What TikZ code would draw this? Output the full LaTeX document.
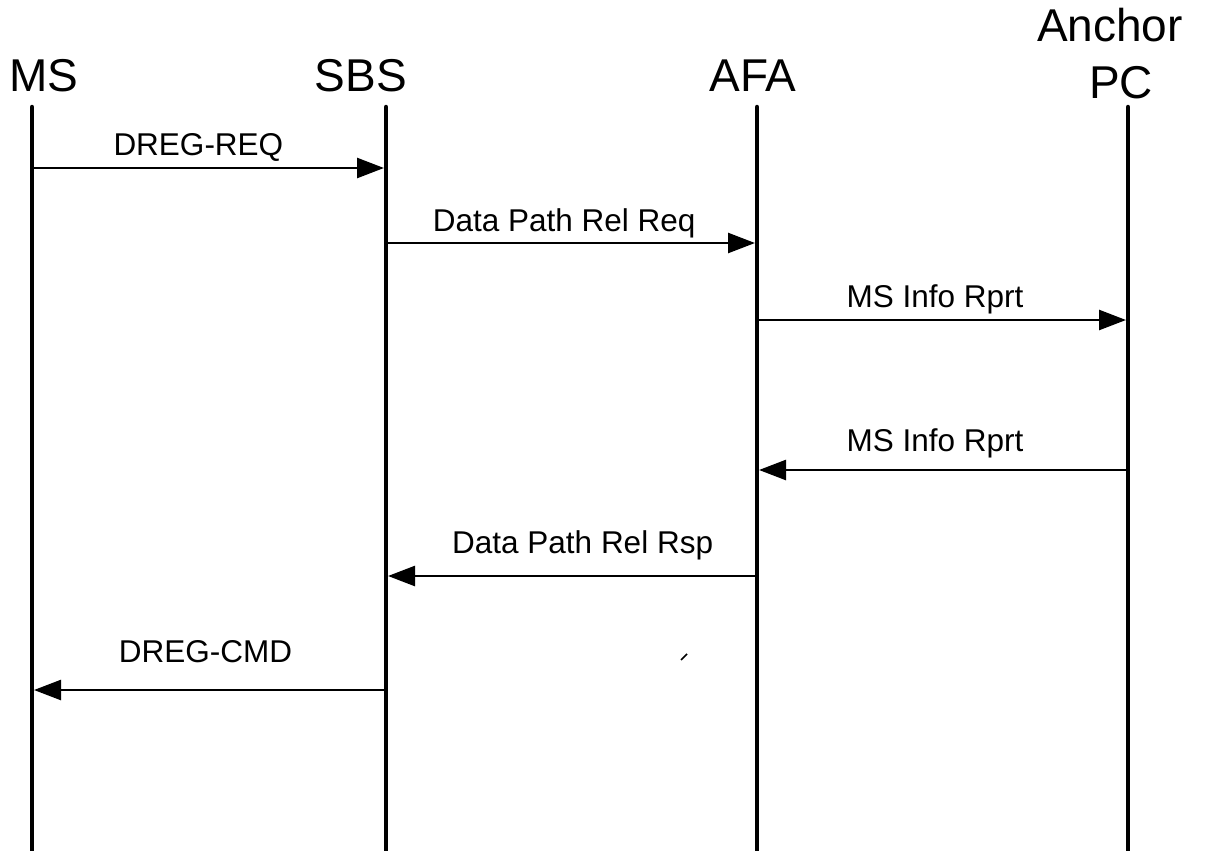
\documentclass[tikz,border=0pt]{standalone}
\usepackage{fontspec}
\setmainfont{Liberation Sans}
\usetikzlibrary{arrows.meta}

\begin{document}
\begin{tikzpicture}[x=1pt,y=-1pt,
    life/.style={line width=4.5pt,line cap=round},
    msg/.style={line width=2.5pt,-{Triangle[length=27pt,width=20pt]},shorten >=2pt},
    head/.style={font=\fontsize{46}{56}\selectfont,inner sep=0pt,anchor=base},
    lbl/.style={font=\fontsize{31.5}{36}\selectfont,inner sep=0pt,anchor=base}]
  \useasboundingbox (0,0) rectangle (1223,851);
  % entity headers
  \node[head] (h_ms)  at (44,92)    {MS};
  \node[head] (h_sbs) at (361,92)   {SBS};
  \node[head] (h_afa) at (753,92)   {AFA};
  \node[head] (h_anc) at (1110,42)  {Anchor};
  \node[head] (h_pc)  at (1121,98)  {PC};
  % lifelines
  \coordinate (ms_t)  at (32,107);   \coordinate (ms_b)  at (32,851);
  \coordinate (sbs_t) at (386,107);  \coordinate (sbs_b) at (386,851);
  \coordinate (afa_t) at (757,107);  \coordinate (afa_b) at (757,851);
  \coordinate (pc_t)  at (1128,107); \coordinate (pc_b)  at (1128,851);
  \draw[life] (ms_t) -- (ms_b);
  \draw[life] (sbs_t) -- (sbs_b);
  \draw[life] (afa_t) -- (afa_b);
  \draw[life] (pc_t) -- (pc_b);
  % message end points
  \coordinate (m1a) at (32,168);   \coordinate (m1b) at (386,168);
  \coordinate (m2a) at (386,243);  \coordinate (m2b) at (757,243);
  \coordinate (m3a) at (757,320);  \coordinate (m3b) at (1128,320);
  \coordinate (m4a) at (1128,470); \coordinate (m4b) at (757,470);
  \coordinate (m5a) at (757,576);  \coordinate (m5b) at (386,576);
  \coordinate (m6a) at (386,690);  \coordinate (m6b) at (32,690);
  \path[msg]
   (m1a) edge node[lbl,pos=0.47,yshift=13pt] {DREG-REQ} (m1b)
   (m2a) edge node[lbl,pos=0.48,yshift=12pt] {Data Path Rel Req} (m2b)
   (m3a) edge node[lbl,pos=0.48,yshift=13pt] {MS Info Rprt} (m3b)
   (m4a) edge node[lbl,pos=0.52,yshift=19pt] {MS Info Rprt} (m4b)
   (m5a) edge node[lbl,pos=0.47,yshift=23pt] {Data Path Rel Rsp} (m5b)
   (m6a) edge node[lbl,pos=0.51,yshift=28pt] {DREG-CMD} (m6b);
  % stray tick
  \coordinate (tk1) at (681,660); \coordinate (tk2) at (687,654);
  \draw[line width=1.5pt] (tk1) -- (tk2);
\end{tikzpicture}
\end{document}
